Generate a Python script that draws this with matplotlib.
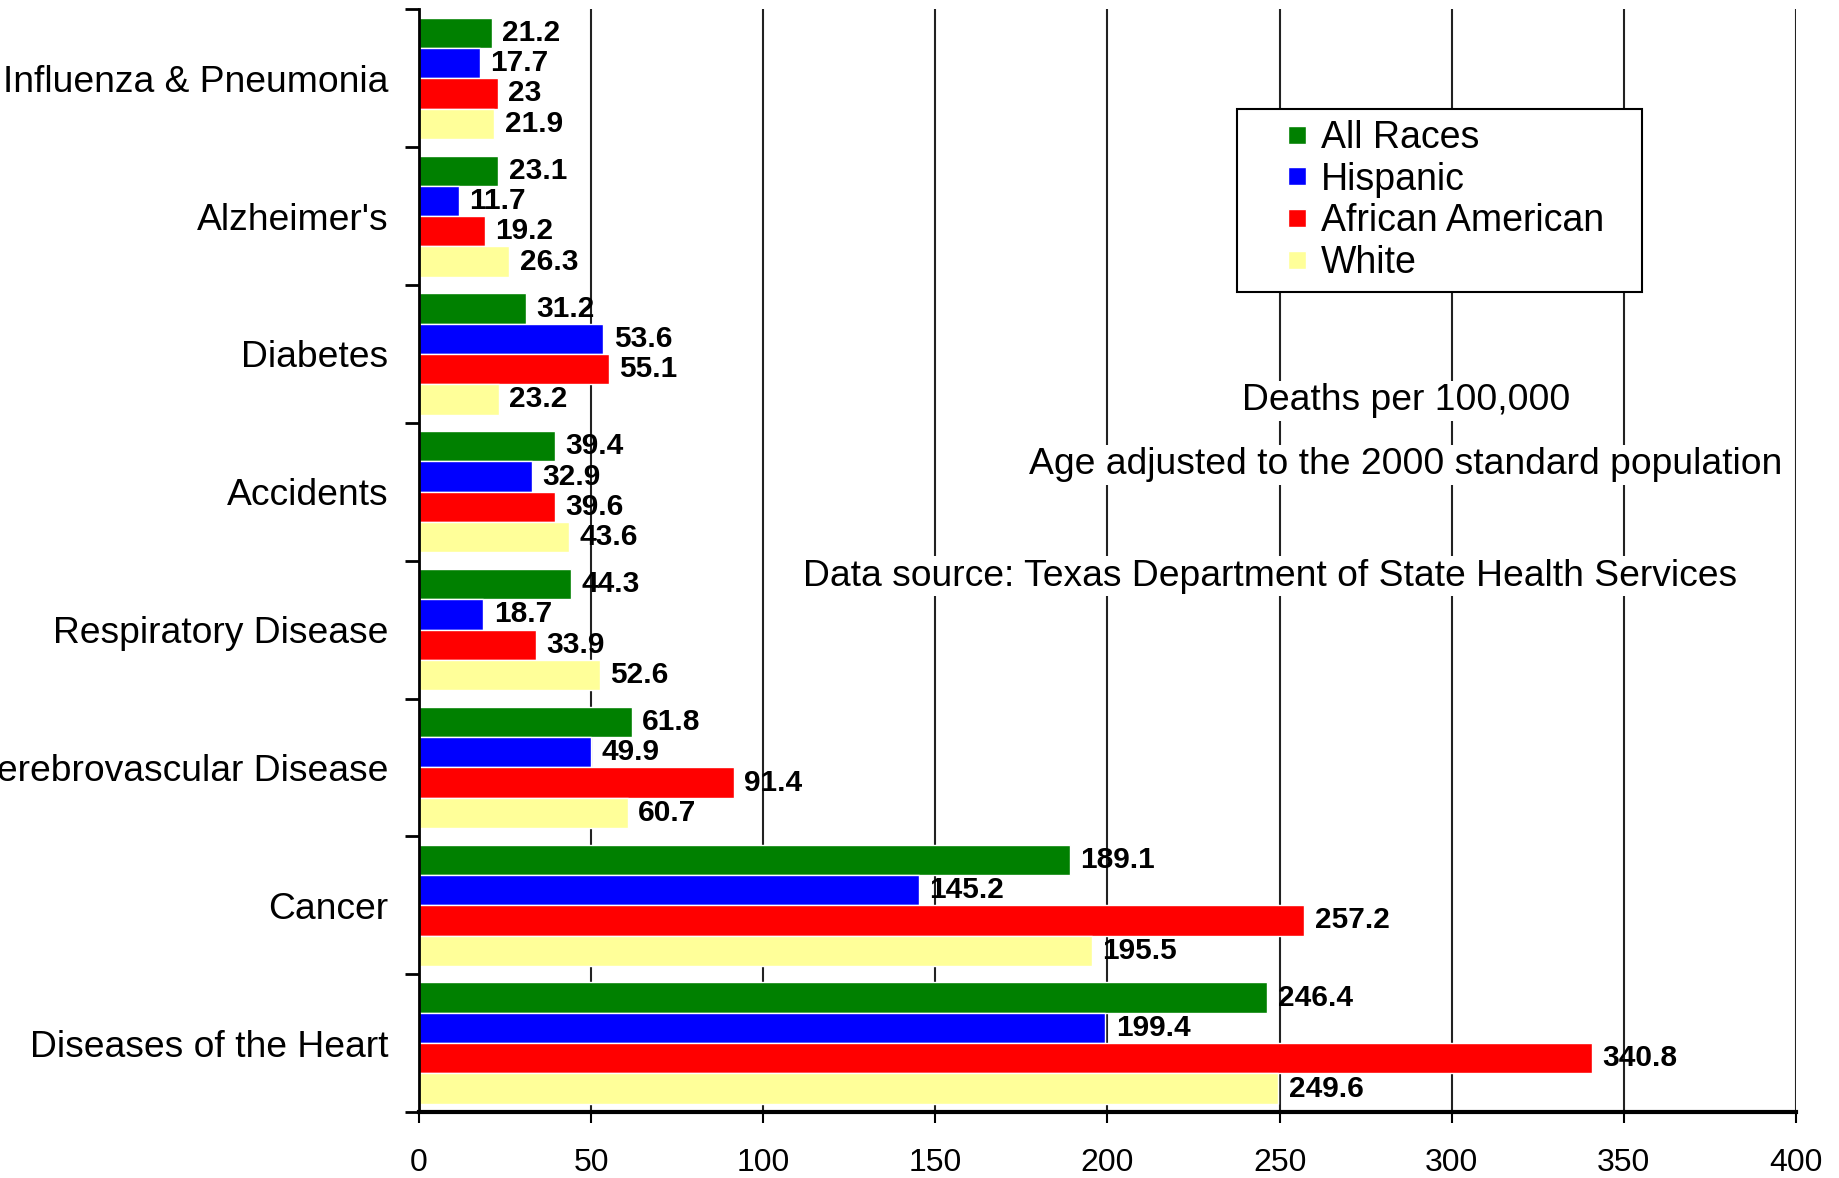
import matplotlib
matplotlib.use('Agg')
import matplotlib.pyplot as plt
from matplotlib import font_manager
from matplotlib.lines import Line2D
import numpy as np

causes = ['Influenza & Pneumonia', "Alzheimer's", 'Diabetes', 'Accidents',
          'Respiratory Disease', 'Cerebrovascular Disease', 'Cancer',
          'Diseases of the Heart']
all_races = [21.2, 23.1, 31.2, 39.4, 44.3, 61.8, 189.1, 246.4]
hispanic = [17.7, 11.7, 53.6, 32.9, 18.7, 49.9, 145.2, 199.4]
african_american = [23, 19.2, 55.1, 39.6, 33.9, 91.4, 257.2, 340.8]
white = [21.9, 26.3, 23.2, 43.6, 52.6, 60.7, 195.5, 249.6]
series_names = ['All Races', 'Hispanic', 'African American', 'White']
colors = ['#008000', '#0000FF', '#FF0000', '#FFFF99']
x_ticks = [0, 50, 100, 150, 200, 250, 300, 350, 400]

names = {f.name for f in font_manager.fontManager.ttflist}
narrow = 'Liberation Sans Narrow' if 'Liberation Sans Narrow' in names else 'Liberation Sans'
plt.rcParams['font.family'] = [narrow, 'DejaVu Sans']

fig = plt.figure(figsize=(18.39, 11.78), dpi=100)
ax = fig.add_axes([0.2278, 0.056, 0.7488, 0.936])

y = np.arange(len(causes))
slot = 0.22
series = [all_races, hispanic, african_american, white]
for k, vals in enumerate(series):
    pos = y - 1.5 * slot + k * slot
    ax.barh(pos, vals, height=slot, color=colors[k], edgecolor='white',
            linewidth=1.0, zorder=2, label=series_names[k])
    for p, v in zip(pos, vals):
        ax.text(v + 3, p, f'{v:g}', va='center', ha='left', fontsize=21.5,
                fontweight='bold', zorder=4)

ax.set_xlim(0, 400)
ax.set_ylim(len(causes) - 0.5, -0.5)
ax.set_xticks(x_ticks)
ax.set_xticklabels([str(t) for t in x_ticks], fontsize=23)
ax.set_yticks(y)
ax.set_yticklabels(causes, fontsize=26.8)
ax.set_yticks(np.arange(-0.5, len(causes)), minor=True)
ax.tick_params(axis='y', which='major', length=0, pad=22)
ax.tick_params(axis='y', which='minor', length=10, width=2, direction='out')
ax.tick_params(axis='x', length=8, width=1.5, direction='out', pad=18)

for t in x_ticks[1:]:
    ax.axvline(t, color='#222222', linewidth=1.5, zorder=1)

for s in ['top', 'right']:
    ax.spines[s].set_visible(False)
ax.spines['left'].set_linewidth(2)
ax.spines['bottom'].set_linewidth(3)

handles = [Line2D([], [], linestyle='none', marker='s', markersize=13,
                  markerfacecolor=c, markeredgecolor='white') for c in colors]
leg = ax.legend(handles, series_names, loc='upper left', mode='expand',
                bbox_to_anchor=(0.594, 0.910, 0.294, 0.0), fontsize=27,
                frameon=True, fancybox=False, edgecolor='black', framealpha=1,
                handlelength=2.6, handletextpad=-0.66, borderpad=0.3,
                labelspacing=0.15, borderaxespad=0)
leg.get_frame().set_linewidth(1.5)
leg.set_zorder(5)

box = dict(facecolor='white', edgecolor='none', pad=2)
ax.text(286.7, 0.645, 'Deaths per 100,000', transform=ax.get_xaxis_transform(),
        ha='center', va='center', fontsize=26.8, bbox=box, zorder=3)
ax.text(286.7, 0.587, 'Age adjusted to the 2000 standard population',
        transform=ax.get_xaxis_transform(), ha='center', va='center',
        fontsize=26.8, bbox=box, zorder=3)
ax.text(247.2, 0.486, 'Data source: Texas Department of State Health Services',
        transform=ax.get_xaxis_transform(), ha='center', va='center',
        fontsize=26.8, bbox=box, zorder=3)

fig.savefig('out.png', dpi=100)
